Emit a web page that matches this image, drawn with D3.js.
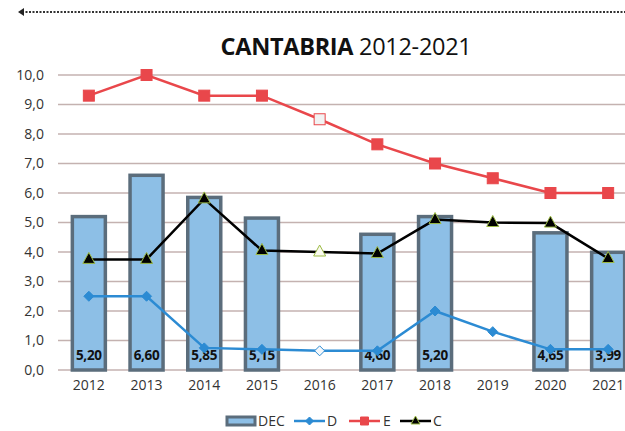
<!DOCTYPE html>
<html><head><meta charset="utf-8">
<script src="https://cdn.jsdelivr.net/npm/d3@7"></script>
<style>body{margin:0;background:#fff}svg{display:block;font-family:"Open Sans",Lato,sans-serif}</style>
</head><body><svg id="c" width="625" height="431"></svg>
<script>
const years = ["2012","2013","2014","2015","2016","2017","2018","2019","2020","2021"];
const dec = [5.20, 6.60, 5.85, 5.15, null, 4.60, 5.20, null, 4.65, 3.99];
const decLabels = ["5,20","6,60","5,85","5,15","","4,60","5,20","","4,65","3,99"];
const dVals = [2.5, 2.5, 0.75, 0.7, 0.65, 0.65, 2.0, 1.3, 0.7, 0.7];
const eVals = [9.3, 10.0, 9.3, 9.3, 8.5, 7.65, 7.0, 6.5, 6.0, 6.0];
const cVals = [3.75, 3.75, 5.8, 4.05, 4.0, 3.95, 5.1, 5.0, 4.98, 3.78];
const yTicks = [0,1,2,3,4,5,6,7,8,9,10];
const hollowIdx = 4;

const svg = d3.select("#c");
const x = d3.scaleBand().domain(years).range([60, 637]).paddingInner(0).paddingOuter(0);
const y = d3.scaleLinear().domain([0, 10]).range([370, 75]);
const cx = d => x(d) + x.bandwidth() / 2;

// top dotted line
svg.append("line").attr("x1", 22).attr("x2", 625).attr("y1", 12).attr("y2", 12)
  .attr("stroke", "#333").attr("stroke-width", 2).attr("stroke-dasharray", "2,1.5");
svg.append("path").attr("d", "M18,12 L24,8 L24,16 Z").attr("fill", "#222");

// title
const t = svg.append("text").attr("x", 346).attr("y", 55).attr("text-anchor", "middle")
  .attr("font-size", 23.5).attr("fill", "#111").style("letter-spacing", "-0.3px");
t.append("tspan").attr("font-weight", "bold").text("CANTABRIA");
t.append("tspan").text(" 2012-2021");

// gridlines
svg.append("g").selectAll("line").data(yTicks).join("line")
  .attr("x1", 58).attr("x2", 625).attr("y1", d => y(d)).attr("y2", d => y(d))
  .attr("stroke", "#c4b2b0").attr("stroke-width", 1.3);

// y axis
const ya = svg.append("g").attr("transform", "translate(47,0)")
  .call(d3.axisLeft(y).tickValues(yTicks).tickSize(0).tickFormat(d => d3.format(".1f")(d).replace(".", ",")));
ya.select(".domain").remove();
ya.selectAll("text").attr("font-size", 14).attr("fill", "#333").attr("font-family", "Open Sans, sans-serif").attr("dx", 0);

// x axis
const xa = svg.append("g").attr("transform", "translate(0,372)")
  .call(d3.axisBottom(x).tickSize(0));
xa.select(".domain").remove();
xa.selectAll("text").attr("font-size", 14).attr("fill", "#333").attr("dy", "1.1em").attr("font-family", "Open Sans, sans-serif");

// bars
const bw = 33;
const bars = years.map((yr, i) => ({yr, v: dec[i], lab: decLabels[i]})).filter(d => d.v != null);
svg.append("g").selectAll("rect").data(bars).join("rect")
  .attr("x", d => cx(d.yr) - bw / 2).attr("width", bw)
  .attr("y", d => y(d.v)).attr("height", d => y(0) - y(d.v))
  .attr("fill", "#8dbfe6").attr("stroke", "#5b6d7c").attr("stroke-width", 3.5);

// bar labels
svg.append("g").selectAll("text").data(bars).join("text")
  .attr("x", d => cx(d.yr)).attr("y", 360).attr("text-anchor", "middle")
  .attr("font-size", 13.5).attr("font-weight", "bold").attr("fill", "#111").style("letter-spacing", "-0.3px")
  .text(d => d.lab);

const line = d3.line().x((d, i) => cx(years[i])).y(d => y(d));

// E line
svg.append("path").datum(eVals).attr("d", line).attr("fill", "none").attr("stroke", "#e9474b").attr("stroke-width", 2.5);
svg.append("g").selectAll("rect").data(eVals).join("rect")
  .attr("x", (d, i) => cx(years[i]) - 5.5).attr("y", d => y(d) - 5.5).attr("width", 11).attr("height", 11)
  .attr("fill", (d, i) => i === hollowIdx ? "#f2f2f2" : "#e9474b")
  .attr("stroke", "#e9474b").attr("stroke-width", 1);

// C line
svg.append("path").datum(cVals).attr("d", line).attr("fill", "none").attr("stroke", "#000").attr("stroke-width", 2.5);
svg.append("g").selectAll("path").data(cVals).join("path")
  .attr("transform", (d, i) => `translate(${cx(years[i])},${y(d)})`)
  .attr("d", "M0,-7 L6,4 L-6,4 Z")
  .attr("fill", (d, i) => i === hollowIdx ? "#fafaf0" : "#000")
  .attr("stroke", "#9cbb45").attr("stroke-width", 1);

// D line
svg.append("path").datum(dVals).attr("d", line).attr("fill", "none").attr("stroke", "#2c8bd3").attr("stroke-width", 2.5);
svg.append("g").selectAll("path").data(dVals).join("path")
  .attr("transform", (d, i) => `translate(${cx(years[i])},${y(d)})`)
  .attr("d", "M0,-5 L5,0 L0,5 L-5,0 Z")
  .attr("fill", (d, i) => i === hollowIdx ? "#f5f8fb" : "#2c8bd3")
  .attr("stroke", "#2c8bd3").attr("stroke-width", 1);

// legend
const lg = svg.append("g");
lg.append("rect").attr("x", 227).attr("y", 417).attr("width", 28).attr("height", 8)
  .attr("fill", "#8dbfe6").attr("stroke", "#5b6d7c").attr("stroke-width", 3);
const legendItems = [
  {name: "DEC", x: 258},
  {name: "D", x: 327, lx: 294, color: "#2c8bd3", m: "M0,-4 L4,0 L0,4 L-4,0 Z"},
  {name: "E", x: 383, lx: 349, color: "#e9474b", m: "M-4,-4 L4,-4 L4,4 L-4,4 Z"},
  {name: "C", x: 433, lx: 400, color: "#000", m: "M0,-5 L4.5,3 L-4.5,3 Z"}
];
legendItems.forEach(it => {
  if (it.lx) {
    lg.append("line").attr("x1", it.lx).attr("x2", it.lx + 31).attr("y1", 421).attr("y2", 421)
      .attr("stroke", it.color).attr("stroke-width", 2.5);
    lg.append("path").attr("transform", `translate(${it.lx + 15.5},421)`).attr("d", it.m)
      .attr("fill", it.color).attr("stroke", it.name === "C" ? "#9cbb45" : it.color).attr("stroke-width", 1);
  }
  lg.append("text").attr("x", it.x).attr("y", 426).attr("font-size", 14).attr("fill", "#333").text(it.name);
});
</script></body></html>
